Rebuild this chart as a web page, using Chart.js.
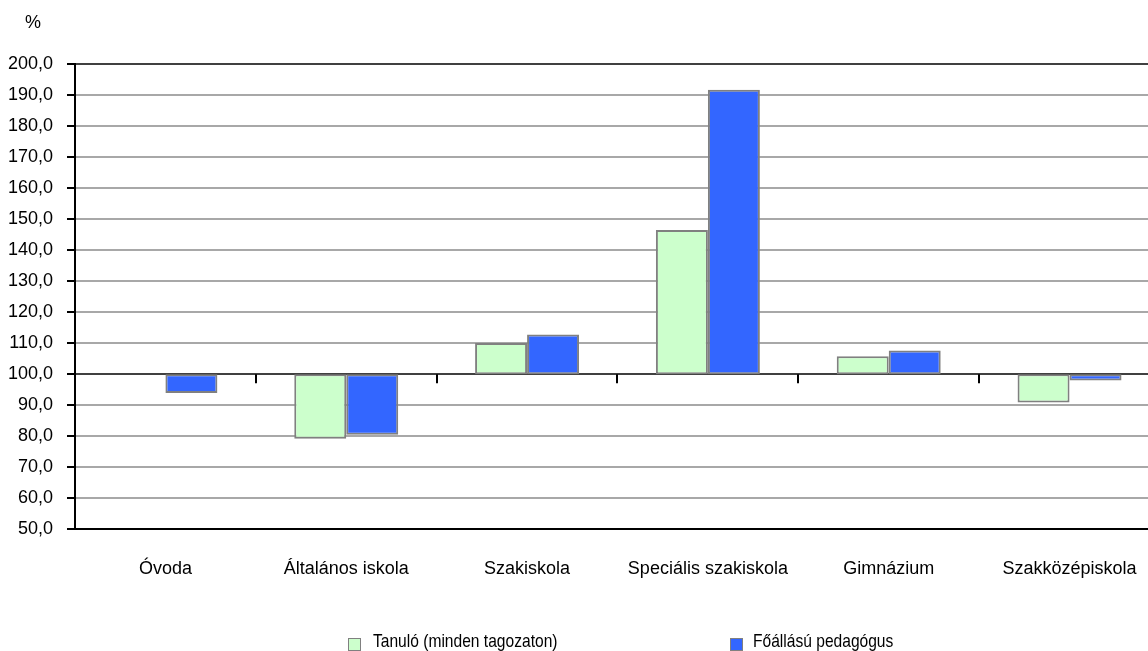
<!DOCTYPE html>
<html><head><meta charset="utf-8">
<script src="https://cdn.jsdelivr.net/npm/chart.js@4.4.1/dist/chart.umd.min.js"></script>
<style>
html,body{margin:0;padding:0;background:#fff;overflow:hidden;width:1148px;height:651px;}
#wrap{position:absolute;left:0;top:0;width:1166px;height:651px;}
#pct{position:absolute;left:25px;top:12px;font:18px "Liberation Sans",Arial,sans-serif;color:#000;line-height:20px}
.legtxt{position:absolute;top:631px;font:19px "Liberation Sans",Arial,sans-serif;line-height:19px;color:#000;white-space:nowrap;transform:scaleX(0.82);transform-origin:0 0}
.legbox{position:absolute;top:638px;width:11px;height:11px;border:1px solid #808080}
</style></head><body>
<div id="wrap"><canvas id="c"></canvas></div>
<div id="pct">%</div>
<div class="legbox" id="box1" style="left:348px"></div>
<div class="legtxt" id="leg1" style="left:373px"></div>
<div class="legbox" id="box2" style="left:730px"></div>
<div class="legtxt" id="leg2" style="left:753px"></div>
<script>
const categories = ["Óvoda", "Általános iskola", "Szakiskola", "Speciális szakiskola", "Gimnázium", "Szakközépiskola"];
const seriesNames = ["Tanuló (minden tagozaton)", "Főállású pedagógus"];
const tanulo = [100.0, 79.2, 110.1, 146.5, 105.8, 90.9];
const pedagogus = [94.0, 80.5, 112.8, 191.7, 107.7, 98.0];
const baseValue = 100;
const yMin = 50, yMax = 200, yStep = 10;
const colors = ["#CCFFCC", "#3366FF"];

const fontFam = '"Liberation Sans", Arial, sans-serif';

const boundaryTicks = {
  id: 'boundaryTicks',
  afterDatasetsDraw(chart) {
    const x = chart.scales.x, y = chart.scales.y;
    const yb = y.getPixelForValue(baseValue);
    const ctx = chart.ctx;
    ctx.save();
    ctx.strokeStyle = '#000';
    ctx.lineWidth = 2;
    for (let i = 1; i < categories.length; i++) {
      const px = Math.round((x.getPixelForValue(i - 1) + x.getPixelForValue(i)) / 2);
      ctx.beginPath();
      ctx.moveTo(px, yb);
      ctx.lineTo(px, yb + 9);
      ctx.stroke();
    }
    ctx.restore();
  }
};

new Chart(document.getElementById('c'), {
  type: 'bar',
  data: {
    labels: categories,
    datasets: [
      { label: seriesNames[0], data: tanulo.map(v => [baseValue, v]), backgroundColor: colors[0],
        borderColor: '#808080', borderWidth: tanulo.map(v => v === baseValue ? 0 : 2), borderSkipped: false },
      { label: seriesNames[1], data: pedagogus.map(v => [baseValue, v]), backgroundColor: colors[1],
        borderColor: '#808080', borderWidth: pedagogus.map(v => v === baseValue ? 0 : 2), borderSkipped: false }
    ]
  },
  options: {
    responsive: true,
    maintainAspectRatio: false,
    animation: false,
    categoryPercentage: 0.575,
    barPercentage: 1.0,
    layout: { padding: { left: 0, top: 64, right: 5, bottom: 42 } },
    plugins: { legend: { display: false }, tooltip: { enabled: false } },
    scales: {
      x: {
        grid: { display: true, color: 'rgba(0,0,0,0)', drawTicks: false },
        border: { display: true, color: '#000', width: 2 },
        ticks: { padding: 29, color: '#000', font: { family: fontFam, size: 18 }, maxRotation: 0 }
      },
      y: {
        min: yMin, max: yMax,
        afterFit: s => { s.width = 75; },
        grid: {
          color: c => (c.tick && (c.tick.value === baseValue || c.tick.value === yMax)) ? '#404040' : '#a8a8a8',
          lineWidth: 2,
          tickLength: 8,
          tickColor: '#000'
        },
        border: { display: true, color: '#000', width: 2 },
        ticks: {
          stepSize: yStep, padding: 14, color: '#000',
          font: { family: fontFam, size: 18 },
          callback: v => v.toFixed(1).replace('.', ',')
        }
      }
    }
  },
  plugins: [boundaryTicks]
});

document.getElementById('box1').style.background = colors[0];
document.getElementById('box2').style.background = colors[1];
document.getElementById('leg1').textContent = seriesNames[0];
document.getElementById('leg2').textContent = seriesNames[1];
</script>
</body></html>
